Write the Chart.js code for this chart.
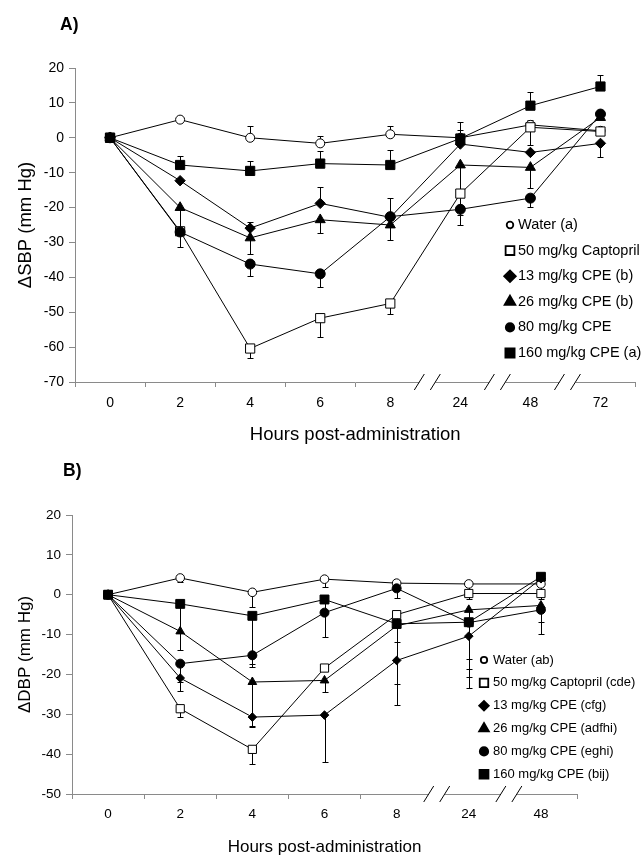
<!DOCTYPE html>
<html>
<head>
<meta charset="utf-8">
<script src="https://cdn.jsdelivr.net/npm/chart.js@4.4.1/dist/chart.umd.min.js"></script>
<style>
  html, body { margin: 0; padding: 0; background: #fff; overflow: hidden; }
  .panel { position: absolute; left: 0; width: 643px; }
  .tag { position: absolute; font: bold 17.5px "Liberation Sans", Arial, sans-serif; line-height: 20px; }
</style>
</head>
<body>
<div class="panel" style="top:0;height:450px"><canvas id="chartA" width="643" height="450"></canvas></div>
<div class="panel" style="top:450px;height:420px"><canvas id="chartB" width="643" height="420"></canvas></div>
<div class="tag" style="left:60px;top:14px">A)</div>
<div class="tag" style="left:63px;top:460px">B)</div>
<script>
// panel A - systolic
const hoursA = ['0', '2', '4', '6', '8', '24', '48', '72'];
const waterA    = [0, 5.2, 0, -1.6, 1.0, 0, 3.7, 2.0];
const captoA    = [0, -26.8, -60.4, -51.7, -47.5, -16, 3.0, 1.8];
const cpe13A    = [0, -12.3, -25.9, -18.8, -22.8, -1.8, -4.2, -1.6];
const cpe26A    = [0, -20, -28.7, -23.5, -25.0, -7.8, -8.5, 5.8];
const cpe80A    = [0, -27, -36.2, -39, -22.6, -20.5, -17.3, 6.8];
const cpe160A   = [0, -7.8, -9.5, -7.4, -7.8, -0.2, 9.2, 14.7];
// error bars (sign = direction drawn)
const waterErrA  = [0, 0, 3.5, 2.0, 2.3, 0, 1.5, 0];
const captoErrA  = [0, -4.5, -2.6, -5.5, -3.1, -6, -5, 0];
const cpe13ErrA  = [0, 0, 1.7, 4.6, 5.4, 3.9, 0, -3.8];
const cpe26ErrA  = [0, -7, -4.5, -3.8, -4.4, -8, -6, 0];
const cpe80ErrA  = [0, 0, -3.3, -3.8, 0, -4.6, -2.5, 0];
const cpe160ErrA = [0, 2.7, 2.8, 3.6, 4.3, 4.8, 3.8, 3.4];

// panel B - diastolic
const hoursB = ['0', '2', '4', '6', '8', '24', '48'];
const waterB    = [0, 4.2, 0.6, 3.9, 2.9, 2.7, 2.7];
const captoB    = [0, -28.6, -38.8, -18.4, -5.0, 0.3, 0.3];
const cpe13B    = [0, -20.9, -30.7, -30.2, -16.5, -10.4, 4.0];
const cpe26B    = [0, -9.2, -21.9, -21.5, -7.8, -3.8, -2.7];
const cpe80B    = [0, -17.3, -15.2, -4.5, 1.6, -7.0, -3.8];
const cpe160B   = [0, -2.3, -5.3, -1.2, -7.3, -6.9, 4.5];
const waterErrB  = [0, -1, -3.7, -2, -1, -1.5, -1.5];
const captoErrB  = [0, -2, -3.7, 0, -2, -1.5, -1.5];
const cpe13ErrB  = [0, -3.3, -2.5, -11.7, -11.2, -8.2, 0];
const cpe26ErrB  = [0, -4.6, -11, -3, -4, -12.3, -4.2];
const cpe80ErrB  = [0, -4.6, -3, -6.2, -2.5, -16.5, -6];
const cpe160ErrB = [0, -7, -12, -3, -15, -13.8, 0];

const labelsA = ['Water (a)', '50 mg/kg Captopril', '13 mg/kg CPE (b)', '26 mg/kg CPE (b)', '80 mg/kg CPE', '160 mg/kg CPE (a)'];
const labelsB = ['Water (ab)', '50 mg/kg Captopril (cde)', '13 mg/kg CPE (cfg)', '26 mg/kg CPE (adfhi)', '80 mg/kg CPE (eghi)', '160 mg/kg CPE (bij)'];

const FONT = '"Liberation Sans", Arial, sans-serif';
const AXIS = '#8a8a8a';

function makeSet(label, values, errors, style, fill, radius, order) {
    return {
        label: label,
        data: values,
        errors: errors,
        pointStyle: style,
        pointRadius: radius,
        pointBackgroundColor: fill,
        pointBorderColor: '#000',
        pointBorderWidth: 1,
        borderColor: '#000',
        borderWidth: 1,
        fill: false,
        tension: 0,
        order: order
    };
}

const errorBars = {
    id: 'errorBars',
    beforeDatasetsDraw(chart) {
        const ctx = chart.ctx;
        const yScale = chart.scales.y;
        ctx.save();
        ctx.strokeStyle = '#000';
        ctx.lineWidth = 1;
        chart.data.datasets.forEach((ds, di) => {
            const meta = chart.getDatasetMeta(di);
            ds.errors.forEach((e, i) => {
                if (!e) return;
                const x = Math.round(meta.data[i].x) + 0.5;
                const y0 = yScale.getPixelForValue(ds.data[i]);
                const y1 = Math.round(yScale.getPixelForValue(ds.data[i] + e)) + 0.5;
                ctx.beginPath();
                ctx.moveTo(x, y0);
                ctx.lineTo(x, y1);
                ctx.moveTo(x - 3, y1);
                ctx.lineTo(x + 3, y1);
                ctx.stroke();
            });
        });
        ctx.restore();
    }
};

const axisBreaks = {
    id: 'axisBreaks',
    afterDraw(chart, args, opts) {
        const xs = chart.scales.x;
        const ctx = chart.ctx;
        const yb = chart.chartArea.bottom;
        const step = xs.width / xs.ticks.length;
        ctx.save();
        opts.at.forEach(b => {
            const x = xs.left + step * b + opts.shift;
            ctx.fillStyle = '#fff';
            ctx.fillRect(x - opts.spread, yb - 2, opts.spread * 2, 4);
            ctx.strokeStyle = '#000';
            ctx.lineWidth = 1;
            [-1, 1].forEach(s => {
                const cx = x + s * opts.spread;
                ctx.beginPath();
                ctx.moveTo(cx - 5, yb + 8);
                ctx.lineTo(cx + 5, yb - 8);
                ctx.stroke();
            });
        });
        ctx.restore();
    }
};

const insetLegend = {
    id: 'insetLegend',
    afterDraw(chart, args, opts) {
        const ctx = chart.ctx;
        ctx.save();
        ctx.font = opts.font;
        ctx.textBaseline = 'middle';
        chart.data.datasets.forEach((ds, i) => {
            const y = opts.top + i * opts.step;
            ctx.fillStyle = ds.pointBackgroundColor;
            ctx.strokeStyle = '#000';
            ctx.lineWidth = 1.8;
            Chart.helpers.drawPoint(ctx, {
                pointStyle: ds.pointStyle,
                radius: opts.radii[i],
                rotation: 0,
                borderWidth: 1.8
            }, opts.x, y);
            ctx.fillStyle = '#000';
            ctx.fillText(ds.label, opts.textX, y);
        });
        ctx.restore();
    }
};

function axes(cats, breaks, yMin, yMax, yTitle, sizes) {
    return {
        x: {
            type: 'category',
            labels: cats,
            offset: true,
            grid: {
                display: true,
                offset: true,
                drawOnChartArea: false,
                drawTicks: true,
                tickLength: 5,
                color: ctx => breaks.includes(ctx.index) ? 'rgba(0,0,0,0)' : AXIS
            },
            border: { color: AXIS, width: 1 },
            ticks: { color: '#000', font: { family: FONT, size: sizes.tick }, padding: sizes.xPad, maxRotation: 0, autoSkip: false },
            title: {
                display: true,
                text: 'Hours post-administration',
                color: '#000',
                font: { family: FONT, size: sizes.title, lineHeight: 1.2 },
                padding: { top: 0, bottom: sizes.titleBottom }
            },
            afterFit: s => { s.height = sizes.xHeight; }
        },
        y: {
            min: yMin,
            max: yMax,
            grid: { display: true, drawOnChartArea: false, tickLength: 6, color: AXIS },
            border: { color: AXIS, width: 1 },
            ticks: { stepSize: 10, color: '#000', font: { family: FONT, size: sizes.tick }, padding: 5 },
            title: {
                display: true,
                text: yTitle,
                color: '#000',
                font: { family: FONT, size: sizes.title, lineHeight: 1.2 },
                padding: { top: sizes.yTitlePad, bottom: 0 }
            },
            afterFit: s => { s.width = sizes.yWidth; }
        }
    };
}

const chartA = new Chart(document.getElementById('chartA').getContext('2d'), {
    type: 'line',
    data: {
        labels: hoursA,
        datasets: [
            makeSet(labelsA[0], waterA, waterErrA, 'circle', '#fff', 4.5, 5),
            makeSet(labelsA[1], captoA, captoErrA, 'rect', '#fff', 6.5, 4),
            makeSet(labelsA[2], cpe13A, cpe13ErrA, 'rectRot', '#000', 5.2, 3),
            makeSet(labelsA[3], cpe26A, cpe26ErrA, 'triangle', '#000', 5.8, 2),
            makeSet(labelsA[4], cpe80A, cpe80ErrA, 'circle', '#000', 5, 1),
            makeSet(labelsA[5], cpe160A, cpe160ErrA, 'rect', '#000', 6.5, 0)
        ]
    },
    options: {
        responsive: false,
        animation: false,
        events: [],
        layout: { padding: { top: 68, right: 3, left: 0, bottom: 0 } },
        scales: axes(hoursA, [5, 6, 7], -70, 20, '\u0394SBP (mm Hg)',
            { tick: 14, title: 18.5, xPad: 8, titleBottom: 4, xHeight: 68, yTitlePad: 15, yWidth: 75 }),
        plugins: {
            legend: { display: false },
            tooltip: { enabled: false },
            axisBreaks: { at: [5, 6, 7], spread: 8, shift: 2 },
            insetLegend: { x: 510, textX: 518, top: 225, step: 25.6, radii: [3.3, 6.2, 5.8, 6.2, 4.2, 6.5], font: '14.5px ' + FONT }
        }
    },
    plugins: [errorBars, axisBreaks, insetLegend]
});

const chartB = new Chart(document.getElementById('chartB').getContext('2d'), {
    type: 'line',
    data: {
        labels: hoursB,
        datasets: [
            makeSet(labelsB[0], waterB, waterErrB, 'circle', '#fff', 4.3, 5),
            makeSet(labelsB[1], captoB, captoErrB, 'rect', '#fff', 5.8, 4),
            makeSet(labelsB[2], cpe13B, cpe13ErrB, 'rectRot', '#000', 4.3, 3),
            makeSet(labelsB[3], cpe26B, cpe26ErrB, 'triangle', '#000', 5, 2),
            makeSet(labelsB[4], cpe80B, cpe80ErrB, 'circle', '#000', 4.5, 1),
            makeSet(labelsB[5], cpe160B, cpe160ErrB, 'rect', '#000', 6.3, 0)
        ]
    },
    options: {
        responsive: false,
        animation: false,
        events: [],
        layout: { padding: { top: 65, right: 66, left: 0, bottom: 0 } },
        scales: axes(hoursB, [5, 6], -50, 20, '\u0394DBP (mm Hg)',
            { tick: 13.5, title: 17, xPad: 7, titleBottom: 12, xHeight: 76, yTitlePad: 15, yWidth: 72 }),
        plugins: {
            legend: { display: false },
            tooltip: { enabled: false },
            axisBreaks: { at: [5, 6], spread: 8, shift: 4 },
            insetLegend: { x: 484, textX: 493, top: 210, step: 22.85, radii: [3.2, 6, 4.8, 5.6, 4.2, 6.3], font: '13px ' + FONT }
        }
    },
    plugins: [errorBars, axisBreaks, insetLegend]
});
</script>
</body>
</html>
